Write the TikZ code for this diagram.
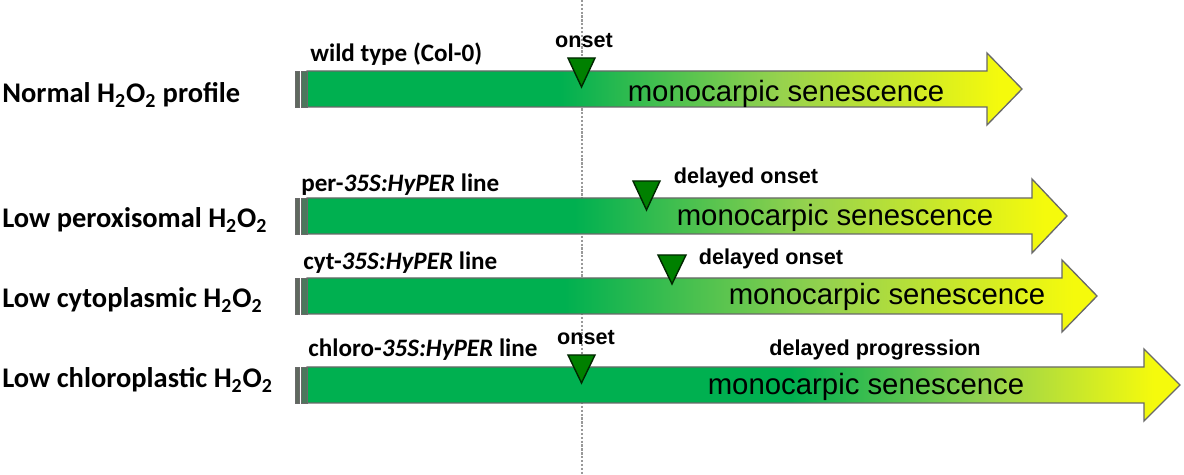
\documentclass[tikz,border=0pt]{standalone}
\usepackage{fontspec}
\setmainfont{Carlito}
\newfontfamily\arialfont{Liberation Sans}
\usetikzlibrary{calc}

\definecolor{sgreen}{RGB}{0,176,80}
\definecolor{smid}{RGB}{150,210,78}
\definecolor{syellow}{RGB}{245,250,12}
\definecolor{mgreen}{RGB}{0,128,0}
\definecolor{edgegray}{RGB}{105,105,105}
\definecolor{stubgray}{RGB}{95,105,95}

\pgfdeclarehorizontalshading{senA}{100bp}{color(0bp)=(sgreen); color(42.7bp)=(sgreen); color(58bp)=(smid); color(73.5bp)=(syellow); color(100bp)=(syellow)}
\pgfdeclarehorizontalshading{senB}{100bp}{color(0bp)=(sgreen); color(42.6bp)=(sgreen); color(58bp)=(smid); color(73.5bp)=(syellow); color(100bp)=(syellow)}
\pgfdeclarehorizontalshading{senC}{100bp}{color(0bp)=(sgreen); color(41.3bp)=(sgreen); color(58bp)=(smid); color(73.5bp)=(syellow); color(100bp)=(syellow)}
\pgfdeclarehorizontalshading{senD}{100bp}{color(0bp)=(sgreen); color(52.7bp)=(sgreen); color(64bp)=(smid); color(73.5bp)=(syellow); color(100bp)=(syellow)}

\begin{document}
\begin{tikzpicture}[x=0.02cm,y=-0.02cm,
  row label/.style={font=\fontsize{16.2}{18}\selectfont\bfseries,anchor=base west,inner sep=0},
  line label/.style={font=\fontsize{14.3}{16}\selectfont\bfseries,anchor=base west,inner sep=0},
  mark label/.style={font=\arialfont\fontsize{12.3}{14}\selectfont\bfseries,anchor=base,inner sep=0},
  sen label/.style={font=\arialfont\fontsize{16.7}{18}\selectfont,anchor=base,inner sep=0},
  body/.style={draw=edgegray,line width=0.75pt},
  stub/.style={fill=stubgray,draw=edgegray,line width=0.5pt},
  marker/.style={fill=mgreen,draw=black!70!mgreen,line width=0.8pt,line join=miter}]

\useasboundingbox (0,0) rectangle (1184,475);

\coordinate (top) at (582,0);
\coordinate (bottom) at (582,475);
\draw[black!40,line width=1.4pt,dash pattern=on 1.3pt off 0.9pt] (top) -- (bottom);

% arrows
\path[body,shading=senA] (307,71) -- (987,71) -- (987,53) -- (1022,89) -- (987,125) -- (987,107) -- (307,107) -- cycle;
\path[body,shading=senB] (307,198) -- (1032,198) -- (1032,179) -- (1067,216) -- (1032,253) -- (1032,234) -- (307,234) -- cycle;
\path[body,shading=senC] (307,278) -- (1062,278) -- (1062,260) -- (1097,296) -- (1062,332) -- (1062,314) -- (307,314) -- cycle;
\path[body,shading=senD] (307,367) -- (1144,367) -- (1144,349) -- (1180,385) -- (1144,421) -- (1144,403) -- (307,403) -- cycle;

\foreach \y in {89,216,296,385}{
  \draw[stub] (295,\y-18) rectangle (299.5,\y+18);
  \draw[stub,fill=stubgray!80!sgreen] (301,\y-18) rectangle (307,\y+18);
}

% onset markers
\draw[marker] (568,58) -- (595,58) -- (581.5,87) -- cycle;
\draw[marker] (633,181) -- (660,181) -- (646.5,210) -- cycle;
\draw[marker] (658,255) -- (686,255) -- (672,284) -- cycle;
\draw[marker] (568,355) -- (595,355) -- (581.5,383) -- cycle;

\node[row label](N1) at (2,103) {Normal H\textsubscript{2}O\textsubscript{2} profile};
\node[row label](N2) at (2,228) {Low peroxisomal H\textsubscript{2}O\textsubscript{2}};
\node[row label](N3) at (2,308) {Low cytoplasmic H\textsubscript{2}O\textsubscript{2}};
\node[row label](N4) at (2,388) {Low chloroplastic H\textsubscript{2}O\textsubscript{2}};

\node[line label](L1) at (310,62) {wild type (Col-0)};
\node[line label](L2) at (301,192) {per-\textit{35S:HyPER} line};
\node[line label](L3) at (303,270) {cyt-\textit{35S:HyPER} line};
\node[line label](L4) at (308,357) {chloro-\textit{35S:HyPER} line};

\node[mark label](O1) at (584,48) {onset};
\node[mark label](O2) at (746,184) {delayed onset};
\node[mark label](O3) at (771,265) {delayed onset};
\node[mark label](O4) at (586,345) {onset};
\node[mark label](P4) at (875,356) {delayed progression};

\node[sen label](S1) at (786,102) {monocarpic senescence};
\node[sen label](S2) at (835,226) {monocarpic senescence};
\node[sen label](S3) at (887,305) {monocarpic senescence};
\node[sen label](S4) at (866,395) {monocarpic senescence};
\end{tikzpicture}
\end{document}
